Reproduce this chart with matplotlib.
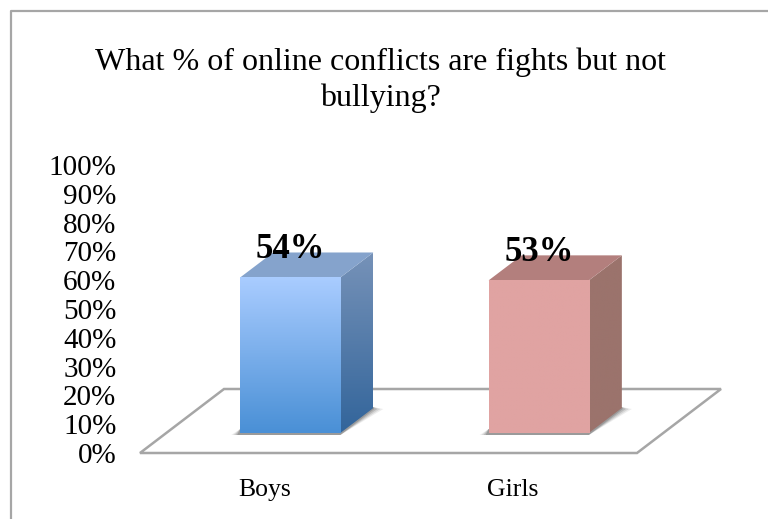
import numpy as np
import matplotlib
matplotlib.use("Agg")
import matplotlib.pyplot as plt
from matplotlib.colors import LinearSegmentedColormap
from matplotlib.patches import Polygon
from matplotlib.lines import Line2D
from matplotlib.transforms import Affine2D, IdentityTransform

# Data
categories = ["Boys", "Girls"]
values = [54, 53]
value_labels = ["54%", "53%"]
tick_values = list(range(0, 101, 10))
tick_labels = [f"{v}%" for v in tick_values]
title = "What % of online conflicts are fights but not\nbullying?"

W, H = 768, 519
plt.rcParams["font.family"] = ["Liberation Serif", "DejaVu Serif"]
GREY = "#a6a6a6"

fig = plt.figure(figsize=(W / 100, H / 100), dpi=100)
fig.patch.set_facecolor("white")


def box(left, top, right, bottom):
    return [left / W, 1 - bottom / H, (right - left) / W, (bottom - top) / H]


# Chart frame: only left and top edges are inside the picture
fig.add_artist(Line2D([10.5 / W, 10.5 / W, 1], [0, 1 - 11 / H, 1 - 11 / H],
                      transform=fig.transFigure, color=GREY, lw=1.6))

# Axes are the front plane of the 3D box
ax = fig.add_axes(box(140, 165, 637, 453))
ax.set_xlim(-0.5, 1.5)
ax.set_ylim(0, 100)
ax.patch.set_alpha(0)
for s in ax.spines.values():
    s.set_visible(False)
ax.set_xticks(range(len(categories)), categories, fontsize=18.5)
ax.set_yticks(tick_values, tick_labels, fontsize=21)
ax.tick_params(length=0)
ax.tick_params(axis="x", pad=19)
ax.tick_params(axis="y", pad=17)

fig.text(380.5 / W, 1 - 80 / H, title, ha="center", va="center",
         fontsize=23, linespacing=1.3)

px = IdentityTransform()

# Floor, with depth offset in pixels
floor_dx, floor_dy = 84, 64
x0, x1 = ax.get_xlim()
(fl, fb) = ax.transData.transform((x0, 0))
(fr, _) = ax.transData.transform((x1, 0))
ax.add_patch(Polygon([(fl, fb), (fr, fb), (fr + floor_dx, fb + floor_dy), (fl + floor_dx, fb + floor_dy)],
                     transform=px, fill=False, edgecolor=GREY, lw=1.8, clip_on=False, zorder=1))

# Bars
bar_width = 100 / 248
front_off = Affine2D().translate(26, 20)
depth_x, depth_y = 33, 25
front_colors = [["#a9ccff", "#4a90d6"], ["#e0a3a2", "#e0a3a2"]]
top_colors = ["#85a3cc", "#b37f7d"]
side_colors = [["#7692b8", "#33659b"], ["#9b736c", "#9b736c"]]
ramp = np.linspace(1, 0, 64).reshape(-1, 1)
bar_tr = ax.transData + front_off

for i, v in enumerate(values):
    l, r = i - bar_width / 2, i + bar_width / 2
    (pl, pb) = bar_tr.transform((l, 0))
    (pr, pt) = bar_tr.transform((r, v))

    # soft shadow on the floor
    for k, a in enumerate((0.10, 0.15, 0.22, 0.30)):
        ax.add_patch(Polygon([(pl - 9 + 2 * k, pb - 2), (pr, pb - 2),
                              (pr + depth_x + 10 - 3 * k, pb + depth_y - 1),
                              (pr + depth_x, pb + depth_y + 1), (pl, pb + 4)],
                             transform=px, facecolor="#555555", edgecolor="none",
                             alpha=a, clip_on=False, zorder=2))

    # right side face
    side = Polygon([(pr, pb), (pr + depth_x, pb + depth_y), (pr + depth_x, pt + depth_y), (pr, pt)],
                   transform=px, facecolor="none", edgecolor="none", zorder=3)
    ax.add_patch(side)
    side_im = ax.imshow(ramp, cmap=LinearSegmentedColormap.from_list("s", side_colors[i]),
                        vmin=0, vmax=1, extent=[pr, pr + depth_x, pb, pt + depth_y],
                        aspect="auto", origin="lower", transform=px, zorder=3,
                        interpolation="bilinear")
    side_im.set_clip_path(side)

    # top face
    ax.add_patch(Polygon([(pl, pt), (pr, pt), (pr + depth_x, pt + depth_y), (pl + depth_x, pt + depth_y)],
                         transform=px, facecolor=top_colors[i], edgecolor="none",
                         clip_on=False, zorder=4))

    # front face, placed through the data scales
    ax.imshow(ramp, cmap=LinearSegmentedColormap.from_list("f", front_colors[i]),
              vmin=0, vmax=1, extent=[l, r, 0, v], aspect="auto", origin="lower",
              transform=bar_tr, zorder=5, clip_on=False, interpolation="bilinear")

    # value label
    ax.text(i, v, value_labels[i], transform=bar_tr + Affine2D().translate(0, 28),
            ha="center", va="center", fontsize=25, fontweight="bold", color="black", zorder=10)

ax.set_xlim(-0.5, 1.5)
ax.set_ylim(0, 100)
ax.set_aspect("auto")

fig.savefig("out.png", dpi=100)
